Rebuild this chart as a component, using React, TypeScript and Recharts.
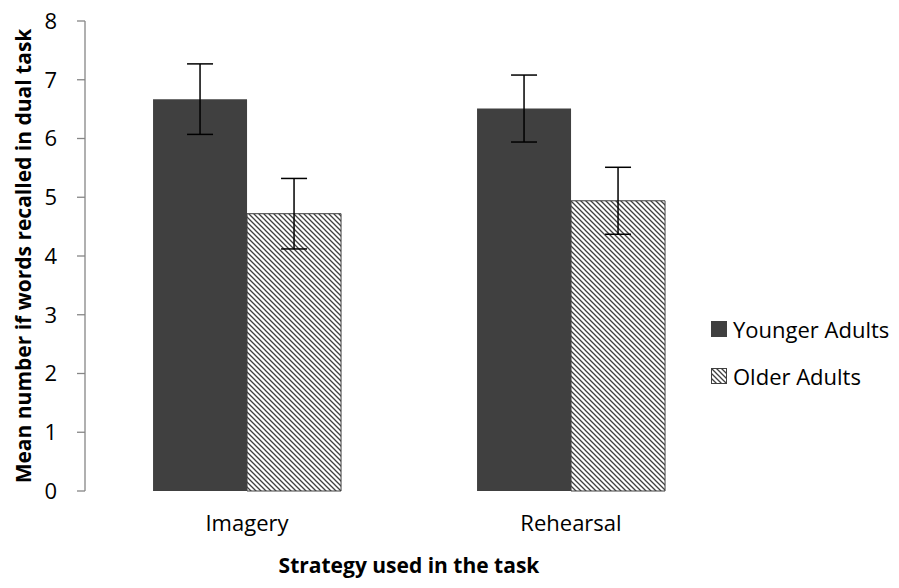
import React from 'react';
import { BarChart, Bar, XAxis, YAxis, ErrorBar, Label } from 'recharts';

const categories = ['Imagery', 'Rehearsal'];
const younger = [6.67, 6.51];
const youngerErr = [0.6, 0.57];
const older = [4.72, 4.94];
const olderErr = [0.6, 0.57];
const yTicks = [0, 1, 2, 3, 4, 5, 6, 7, 8];
const boundaryTicks = [0, 1, 2];
const seriesNames = ['Younger Adults', 'Older Adults'];

const data = categories.map((c, i) => ({
  name: c,
  pos: i + 0.5,
  younger: younger[i],
  youngerErr: youngerErr[i],
  older: older[i],
  olderErr: olderErr[i],
}));

const FONT = '"Open Sans", sans-serif';
const DARK = '#404040';
const AXIS = '#868686';

const LegendBox = () => (
  <div
    style={{
      position: 'absolute',
      left: 711,
      top: 314,
      fontFamily: FONT,
      fontSize: 22,
      color: '#000',
      lineHeight: '30px',
      whiteSpace: 'nowrap',
    }}
  >
    <div style={{ display: 'flex', alignItems: 'center', height: 30, marginBottom: 17 }}>
      <svg width={16} height={16} style={{ marginRight: 6, display: 'block' }}>
        <rect x={0} y={0} width={16} height={16} fill={DARK} />
      </svg>
      <span>{seriesNames[0]}</span>
    </div>
    <div style={{ display: 'flex', alignItems: 'center', height: 30 }}>
      <svg width={16} height={16} style={{ marginRight: 6, display: 'block' }}>
        <rect x={0.5} y={0.5} width={15} height={15} fill="url(#hatch)" stroke={DARK} strokeWidth={1} />
      </svg>
      <span>{seriesNames[1]}</span>
    </div>
  </div>
);

export default function App() {
  return (
    <div style={{ position: 'absolute', left: 0, top: 0, width: 899, height: 588, background: '#fff' }}>
      <BarChart
        width={899}
        height={588}
        data={data}
        margin={{ top: 21, right: 166, bottom: 7, left: 0 }}
        barCategoryGap="21%"
        barGap={0}
      >
        <defs>
          <pattern id="hatch" patternUnits="userSpaceOnUse" width={5} height={5}>
            <rect x={0} y={0} width={5} height={5} fill="#fff" />
            <path d="M0,0 L5,5 M-1,4 L1,6 M4,-1 L6,1" stroke={DARK} strokeWidth={1.3} />
          </pattern>
        </defs>
        <XAxis
          xAxisId="cat"
          dataKey="name"
          type="category"
          axisLine={false}
          tickLine={false}
          height={90}
          tickSize={6}
          tickMargin={18}
          tick={{ fontFamily: FONT, fontSize: 22, fill: '#000' }}
        >
          <Label
            value="Strategy used in the task"
            position="insideBottom"
            offset={8}
            style={{ fontFamily: FONT, fontSize: 21, fontWeight: 'bold', fill: '#000' }}
          />
        </XAxis>
        <XAxis
          xAxisId="bnd"
          type="number"
          dataKey="pos"
          domain={[0, 2]}
          ticks={boundaryTicks}
          height={0}
          axisLine={{ stroke: AXIS, strokeWidth: 1.3 }}
          tickLine={{ stroke: AXIS, strokeWidth: 1.3 }}
          tickSize={8}
          tick={false}
        />
        <YAxis
          domain={[0, 8]}
          ticks={yTicks}
          width={85}
          axisLine={{ stroke: AXIS, strokeWidth: 1.3 }}
          tickLine={{ stroke: AXIS, strokeWidth: 1.3 }}
          tickSize={8}
          tickMargin={20}
          tick={{ fontFamily: FONT, fontSize: 22, fill: '#000' }}
          interval={0}
        >
          <Label
            value="Mean number if words recalled in dual task"
            angle={-90}
            position="insideLeft"
            offset={24}
            style={{ textAnchor: 'middle', fontFamily: FONT, fontSize: 21, fontWeight: 'bold', fill: '#000' }}
          />
        </YAxis>
        <Bar xAxisId="cat" dataKey="younger" name={seriesNames[0]} fill={DARK} isAnimationActive={false}>
          <ErrorBar dataKey="youngerErr" width={13} stroke="#000" strokeWidth={1.5} direction="y" />
        </Bar>
        <Bar xAxisId="cat" dataKey="older" name={seriesNames[1]} fill="url(#hatch)" stroke={DARK} strokeWidth={1} isAnimationActive={false}>
          <ErrorBar dataKey="olderErr" width={13} stroke="#000" strokeWidth={1.5} direction="y" />
        </Bar>
      </BarChart>
      <LegendBox />
    </div>
  );
}
